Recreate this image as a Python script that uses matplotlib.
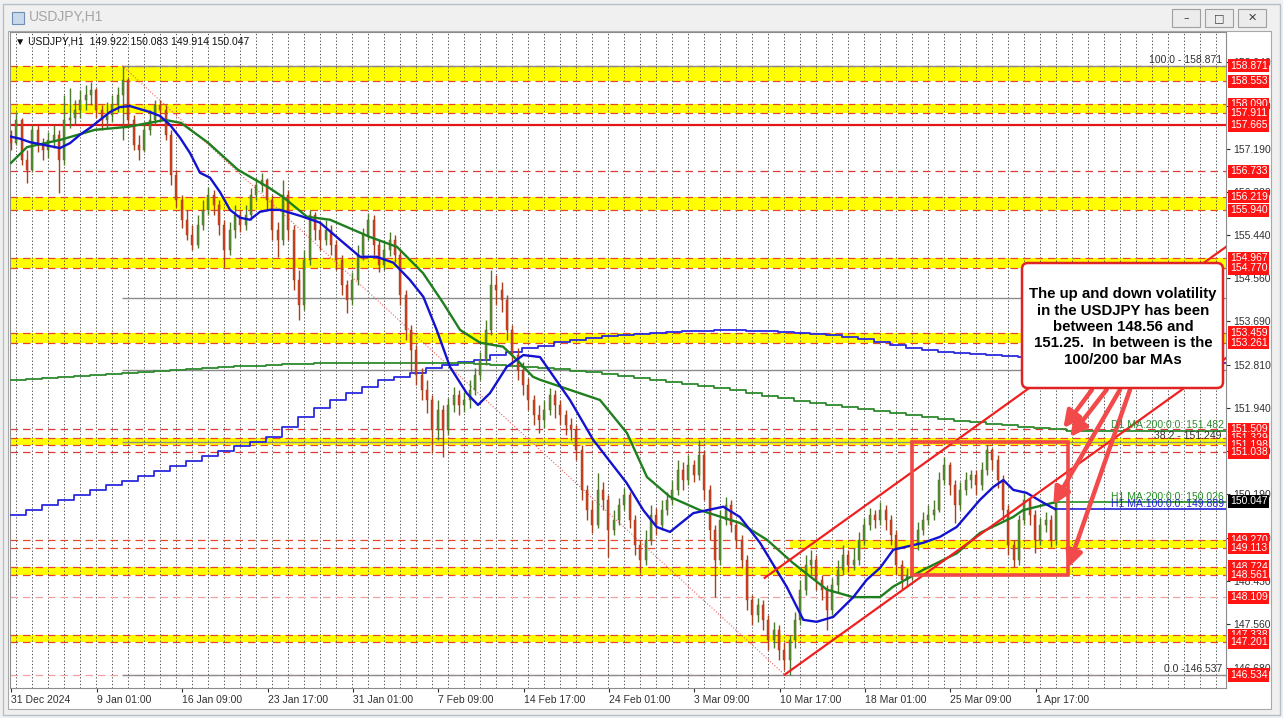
import matplotlib
matplotlib.use("Agg")
import matplotlib.pyplot as plt
import matplotlib.transforms as mtransforms
from matplotlib.patches import Rectangle, FancyBboxPatch
from matplotlib.ticker import MultipleLocator

plt.rcParams['font.family'] = ['Liberation Sans', 'DejaVu Sans']

# x axis counted in H1 bars, one candle below = 8 bars
candle_step = 8
first_open = 157.45
close = [157.30, 157.77, 156.96, 156.76, 157.57, 157.26, 157.16, 157.37, 157.47, 156.96,
         157.77, 157.81, 157.97, 158.18, 158.28, 158.38, 157.97, 157.77, 157.87, 158.07,
         158.28, 158.58, 157.77, 157.26, 157.16, 157.57, 157.77, 158.07, 157.97, 157.47,
         156.66, 156.15, 155.75, 155.44, 155.24, 155.64, 155.95, 156.25, 156.05, 155.64,
         155.14, 155.54, 155.85, 155.64, 155.85, 156.25, 156.45, 156.56, 156.15, 155.54,
         155.34, 156.25, 155.54, 154.53, 154.03, 154.94, 155.85, 155.54, 155.34, 155.54,
         155.24, 154.94, 154.43, 154.13, 154.53, 155.04, 155.44, 155.75, 155.24, 154.84,
         155.14, 155.34, 155.04, 154.23, 153.52, 153.11, 152.61, 152.30, 152.10, 151.49,
         151.90, 151.49, 152.00, 152.20, 152.00, 152.10, 152.30, 152.61, 152.91, 153.52,
         154.43, 154.33, 154.13, 153.52, 153.01, 152.71, 152.41, 152.10, 151.80, 151.70,
         151.90, 152.20, 152.00, 151.80, 151.60, 151.49, 151.09, 150.28, 149.88, 149.57,
         150.28, 150.08, 149.47, 149.67, 149.98, 150.18, 149.67, 149.17, 148.86, 149.27,
         149.77, 149.57, 149.88, 150.08, 150.28, 150.69, 150.48, 150.79, 150.58, 150.99,
         150.28, 149.47, 148.86, 149.67, 149.98, 149.57, 149.27, 148.86, 148.05, 147.75,
         147.95, 147.65, 147.24, 147.45, 147.04, 146.84, 147.24, 147.65, 148.26, 148.76,
         148.86, 148.46, 148.26, 147.85, 148.36, 148.66, 148.96, 148.76, 148.86, 149.27,
         149.57, 149.77, 149.67, 149.88, 149.67, 149.37, 148.76, 148.46, 148.56, 149.17,
         149.47, 149.67, 149.77, 149.88, 150.48, 150.79, 150.38, 149.98, 150.28, 150.48,
         150.58, 150.38, 150.69, 151.09, 150.89, 150.48, 149.88, 149.17, 148.86, 149.67,
         150.08, 149.77, 149.27, 149.57, 149.67, 149.27, 150.047]
high = [157.57, 157.93, 157.81, 157.16, 157.67, 157.67, 157.41, 157.53, 157.67, 157.57,
        158.28, 158.42, 158.18, 158.38, 158.48, 158.54, 158.42, 158.07, 158.13, 158.28,
        158.44, 158.871, 158.62, 157.87, 157.47, 157.73, 157.97, 158.18, 158.18, 158.07,
        157.57, 156.76, 156.25, 155.95, 155.64, 155.85, 156.15, 156.41, 156.35, 156.15,
        155.75, 155.71, 156.05, 155.95, 156.05, 156.39, 156.60, 156.70, 156.60, 156.25,
        155.71, 156.56, 156.35, 155.64, 154.73, 155.14, 155.95, 155.91, 155.71, 155.75,
        155.64, 155.34, 155.04, 154.53, 154.69, 155.24, 155.58, 155.89, 155.85, 155.34,
        155.34, 155.50, 155.44, 155.14, 154.33, 153.62, 153.22, 152.75, 152.51, 152.20,
        152.10, 152.00, 152.14, 152.37, 152.30, 152.26, 152.51, 152.75, 153.07, 153.72,
        154.73, 154.63, 154.49, 154.23, 153.62, 153.16, 152.87, 152.55, 152.20, 152.00,
        152.10, 152.35, 152.30, 152.10, 151.90, 151.74, 151.60, 151.19, 150.38, 150.08,
        150.63, 150.44, 150.18, 149.88, 150.12, 150.32, 150.24, 149.77, 149.27, 149.47,
        149.98, 149.91, 150.08, 150.24, 150.48, 150.89, 150.85, 150.99, 150.89, 151.29,
        151.09, 150.38, 149.57, 149.88, 150.14, 150.08, 149.67, 149.37, 148.96, 148.15,
        148.09, 148.05, 147.75, 147.61, 147.55, 147.20, 147.34, 147.81, 148.46, 148.96,
        149.07, 148.96, 148.56, 148.36, 148.50, 148.86, 149.17, 149.07, 149.11, 149.43,
        149.71, 149.91, 149.88, 150.04, 149.98, 149.77, 149.47, 148.86, 148.70, 149.31,
        149.63, 149.84, 149.98, 150.08, 150.64, 150.95, 150.85, 150.48, 150.44, 150.64,
        150.69, 150.69, 150.85, 151.198, 151.13, 150.99, 150.58, 149.98, 149.27, 149.77,
        150.22, 150.12, 149.88, 149.71, 149.84, 149.77, 150.22]
low = [157.16, 157.26, 156.86, 156.49, 156.72, 157.12, 156.96, 157.00, 157.20, 156.29,
       156.86, 157.61, 157.67, 157.81, 157.97, 158.07, 157.81, 157.57, 157.61, 157.73,
       157.93, 157.37, 157.61, 157.16, 156.96, 157.12, 157.47, 157.67, 157.73, 157.37,
       156.45, 156.01, 155.58, 155.34, 155.14, 155.18, 155.54, 155.85, 155.85, 155.44,
       154.80, 155.04, 155.38, 155.50, 155.54, 155.75, 156.15, 156.31, 155.95, 155.34,
       154.99, 155.24, 155.34, 154.33, 153.72, 153.92, 154.84, 155.34, 155.14, 155.24,
       155.04, 154.73, 154.23, 153.86, 154.03, 154.43, 154.94, 155.34, 155.04, 154.69,
       154.73, 155.02, 154.90, 154.03, 153.32, 152.65, 152.41, 152.10, 151.84, 151.03,
       151.29, 150.95, 151.39, 151.86, 151.80, 151.86, 151.94, 152.20, 152.51, 152.81,
       153.42, 154.03, 153.88, 153.32, 152.81, 152.51, 152.20, 151.90, 151.60, 151.43,
       151.54, 151.80, 151.74, 151.60, 151.39, 151.29, 150.89, 150.08, 149.67, 149.41,
       149.51, 149.88, 148.92, 149.37, 149.57, 149.88, 149.51, 148.96, 148.60, 148.76,
       149.17, 149.37, 149.47, 149.77, 149.98, 150.18, 150.28, 150.38, 150.44, 150.48,
       150.08, 149.27, 148.11, 148.76, 149.57, 149.43, 149.11, 148.70, 147.85, 147.55,
       147.61, 147.45, 147.04, 147.08, 146.84, 146.64, 146.534, 147.08, 147.55, 148.15,
       148.56, 148.26, 148.05, 147.45, 147.75, 148.22, 148.56, 148.62, 148.66, 148.76,
       149.17, 149.47, 149.51, 149.57, 149.47, 149.17, 148.56, 148.26, 148.32, 148.46,
       149.07, 149.37, 149.57, 149.67, 149.84, 150.38, 150.18, 149.61, 149.88, 150.18,
       150.32, 150.18, 150.28, 150.58, 150.69, 150.32, 149.67, 148.96, 148.72, 148.76,
       149.57, 149.57, 149.01, 149.17, 149.43, 149.13, 149.17]

# H1 moving averages (bar, price)
ma100_x = [1.5, 15, 30, 45, 60, 75, 90, 105, 120, 135, 150, 165, 180, 195, 210, 225, 240, 255,
           270, 285, 300, 315, 330, 345, 360, 375, 390, 405, 435, 465, 490, 525, 550, 575, 600,
           620, 640, 660, 685, 702, 720, 745, 770, 795, 840, 875, 925, 950, 970, 990, 1025,
           1070, 1095, 1125, 1165, 1190, 1210, 1235, 1265, 1285, 1305, 1325, 1370, 1395, 1420,
           1455, 1475, 1490, 1505, 1525, 1550, 1568]
ma100_y = [157.43, 157.39, 157.32, 157.28, 157.24, 157.20, 157.30, 157.47, 157.61, 157.77,
           157.93, 158.03, 158.05, 157.99, 157.93, 157.85, 157.67, 157.41, 157.10, 156.70,
           156.60, 156.31, 155.95, 155.79, 155.75, 155.91, 155.95, 155.95, 155.83, 155.69,
           155.40, 155.00, 155.00, 154.88, 154.53, 154.19, 153.52, 152.77, 152.24, 152.00,
           152.24, 152.77, 153.01, 152.97, 152.10, 151.29, 150.42, 149.87, 149.53, 149.43,
           149.81, 149.94, 149.73, 149.21, 148.32, 147.65, 147.61, 147.71, 148.11, 148.46,
           148.70, 149.07, 149.21, 149.33, 149.53, 150.08, 150.34, 150.48, 150.28, 150.22,
           150.02, 149.889]
ma200_x = [1.5, 25.5, 76.5, 127.5, 177, 232.5, 256.5, 297, 342, 387, 409.5, 445.5, 480, 540,
           580.5, 619.5, 649.5, 675, 705, 739.5, 760.5, 784.5, 795, 885, 925.5, 955.5, 990,
           1035, 1095, 1135.5, 1174.5, 1225.5, 1264.5, 1305, 1324.5, 1369.5, 1420.5, 1455,
           1504.5, 1519.5, 1564.5, 1568]
ma200_y = [156.90, 157.22, 157.37, 157.57, 157.63, 157.77, 157.71, 157.31, 156.76, 156.41,
           156.21, 155.81, 155.75, 155.40, 155.20, 154.67, 154.07, 153.52, 153.26, 153.18,
           152.91, 152.57, 152.51, 152.10, 151.43, 150.54, 150.14, 149.87, 149.61, 149.27,
           148.80, 148.26, 148.11, 148.11, 148.32, 148.66, 149.00, 149.41, 149.73, 149.87,
           150.02, 150.026]

# daily MAs drawn on the hourly chart, one value per day (24 bars)
d1_ma100 = [149.77, 149.87, 149.98, 150.08, 150.18, 150.28, 150.38, 150.46, 150.56, 150.66,
            150.77, 150.87, 150.97, 151.07, 151.17, 151.25, 151.35, 151.56, 151.76, 151.94,
            152.10, 152.24, 152.37, 152.51, 152.57, 152.65, 152.75, 152.81, 152.87, 152.91,
            153.01, 153.07, 153.15, 153.20, 153.28, 153.32, 153.36, 153.40, 153.42, 153.44,
            153.46, 153.48, 153.50, 153.50, 153.52, 153.52, 153.50, 153.50, 153.48, 153.46,
            153.44, 153.42, 153.38, 153.34, 153.28, 153.22, 153.15, 153.11, 153.07, 153.05,
            153.03, 153.01, 152.99, 152.97, 152.97, 152.95, 152.95, 152.93, 152.93, 152.91,
            152.91, 152.89, 152.89, 152.87, 152.87, 152.85, 152.85]
d1_ma200 = [152.51, 152.53, 152.55, 152.57, 152.59, 152.61, 152.63, 152.65, 152.67, 152.69,
            152.71, 152.73, 152.75, 152.77, 152.79, 152.79, 152.81, 152.83, 152.83, 152.85,
            152.85, 152.85, 152.85, 152.85, 152.85, 152.85, 152.85, 152.85, 152.85, 152.83,
            152.81, 152.79, 152.77, 152.75, 152.73, 152.69, 152.67, 152.63, 152.59, 152.55,
            152.51, 152.47, 152.43, 152.39, 152.35, 152.30, 152.24, 152.18, 152.14, 152.08,
            152.04, 152.00, 151.96, 151.92, 151.88, 151.84, 151.80, 151.76, 151.72, 151.68,
            151.66, 151.62, 151.60, 151.56, 151.54, 151.52, 151.49]
d1_ma200_last = 151.482

# horizontal levels
bands = [(158.871, 158.553), (158.090, 157.911), (156.219, 155.940), (154.967, 154.770),
         (153.459, 153.261), (151.329, 151.198), (148.724, 148.561), (147.338, 147.201)]
partial_band = (149.270, 149.113)
red_dashed = [156.733, 151.509, 151.038]
pink_dashed = [148.109, 146.534]
solid_red = 157.665
fib_prices = [158.871, 154.160, 152.704, 151.249, 146.537]
fib_start = 168
fib_trend_x = [168, 1162]
fib_trend_y = [158.871, 146.537]

channel_up_x, channel_up_y = [1132, 1824], [148.50, 155.20]
channel_lo_x, channel_lo_y = [1162, 1824], [146.54, 152.95]
range_x = [1353, 1587]
range_y = [148.56, 151.25]
arrow_from = [(1623, 152.31), (1645, 152.31), (1665, 152.31), (1680, 152.31)]
arrow_to = [(1580, 151.53), (1590, 151.35), (1565, 149.98), (1587, 148.70)]

price_labels = [158.871, 158.553, 158.090, 157.911, 157.665, 156.733, 156.219, 155.940,
                154.967, 154.770, 153.459, 153.261, 151.509, 151.329, 151.198, 151.038,
                149.270, 149.113, 148.724, 148.561, 148.109, 147.338, 147.201, 146.534]
last_price = 150.047
yticks = [158.940, 158.060, 157.190, 156.320, 155.440, 154.560, 153.690, 152.810,
          151.940, 151.070, 150.190, 149.310, 148.430, 147.560, 146.680]
xtick_pos = [1.5, 130.5, 258.5, 386.5, 514.5, 642.5, 770.5, 898.5, 1026.5, 1154.5,
             1282.5, 1410.5, 1538.5]
xtick_lab = ['31 Dec 2024', '9 Jan 01:00', '16 Jan 09:00', '23 Jan 17:00', '31 Jan 01:00',
             '7 Feb 09:00', '14 Feb 17:00', '24 Feb 01:00', '3 Mar 09:00', '10 Mar 17:00',
             '18 Mar 01:00', '25 Mar 09:00', '1 Apr 17:00']

note = ("The up and down volatility\nin the USDJPY has been\nbetween 148.56 and\n"
        "151.25.  In between is the\n100/200 bar MAs")

W, H = 1283, 718
def fx(px):
    return px / W
def fy(py):
    return 1 - py / H

fig = plt.figure(figsize=(12.83, 7.18), dpi=100, facecolor='#f0f0f0')
# window chrome (behind the axes)
fig.add_artist(Rectangle((fx(3), fy(715)), fx(1280) - fx(3), fy(4) - fy(715),
                         transform=fig.transFigure, fc='#f0f0f0', ec='#b4bfcc', lw=1, zorder=-3))
fig.add_artist(Rectangle((fx(8), fy(709)), fx(1271) - fx(8), fy(31) - fy(709),
                         transform=fig.transFigure, fc='white', ec='#a8a8a8', lw=0.8, zorder=-2))
fig.add_artist(Rectangle((fx(12), fy(24)), fx(12), fy(0) - fy(12),
                         transform=fig.transFigure, fc='#c9d9ec', ec='#6f8fb5', lw=0.8, zorder=-2))
fig.text(fx(29), fy(17), 'USDJPY,H1', fontsize=10, color='#a4a4a4', va='center')
for bx, sym in [(1172, '\u2013'), (1205, '\u25a1'), (1238, '\u2715')]:
    fig.add_artist(Rectangle((fx(bx), fy(27)), fx(28), fy(0) - fy(18),
                             transform=fig.transFigure, fc='#ececec', ec='#a0a0a0', lw=0.8,
                             zorder=-2))
    fig.text(fx(bx + 14), fy(18), sym, fontsize=8, ha='center', va='center',
             color='#404040', family=['DejaVu Sans'])

ax = fig.add_axes([fx(10), fy(688), fx(1226) - fx(10), fy(32) - fy(688)])
ax.set_xlim(0, 1824)
ax.set_ylim(146.27, 159.55)
ax.set_facecolor('white')

# yellow zones and their dashed edges
for hi, lo in bands:
    ax.axhspan(lo, hi, color='#ffff00', lw=0, zorder=0.2)
ax.fill_between([1170, 1824], partial_band[1], partial_band[0], color='#ffff00', lw=0, zorder=0.2)
for hi, lo in bands + [partial_band]:
    for p in (hi, lo):
        ax.axhline(p, color='#e8482a', ls=(0, (6, 4)), lw=0.9, zorder=1.5)
for p in red_dashed:
    ax.axhline(p, color='#e03838', ls=(0, (6, 4)), lw=0.9, zorder=1.5)
for p in pink_dashed:
    ax.axhline(p, color='#f2a0a0', ls=(0, (6, 4)), lw=0.9, zorder=1.5)
ax.axhline(solid_red, color='#e01818', lw=1.6, zorder=1.6)

ax.xaxis.set_minor_locator(MultipleLocator(24, offset=9.5))
ax.set_axisbelow(True)
ax.grid(which='minor', axis='x', color='#303030', ls=(0, (1.5, 2.5)), lw=0.6)

# fibonacci
ax.hlines(fib_prices, fib_start, 1824, color='#8c8c8c', lw=1, zorder=2)
ax.plot(fib_trend_x, fib_trend_y, color='#f06060', ls=':', lw=0.8, zorder=2)
tr = mtransforms.blended_transform_factory(ax.transAxes, ax.transData)
ax.text(0.9967, fib_prices[0] + 0.02, '100.0 - 158.871', transform=tr, ha='right', va='bottom',
        fontsize=7.5, color='#303030', zorder=9)
ax.text(0.9967, fib_prices[3] + 0.02, '38.2 - 151.249', transform=tr, ha='right', va='bottom',
        fontsize=7.5, color='#303030', zorder=9)
ax.text(0.9967, fib_prices[4] + 0.02, '0.0 -146.537', transform=tr, ha='right', va='bottom',
        fontsize=7.5, color='#303030', zorder=9)

# daily MAs
ax.step([24 * i for i in range(len(d1_ma100))], d1_ma100, where='post', color='#2a2ae0',
        lw=1.3, zorder=3)
ax.step([24 * i for i in range(len(d1_ma200))], d1_ma200, where='post', color='#2e8b2e',
        lw=1.3, zorder=3)
ax.hlines(d1_ma200_last, 24 * (len(d1_ma200) - 1), 1824, color='#2e8b2e', lw=1.3, zorder=3)
ax.text(0.9984, d1_ma200_last + 0.01, 'D1 MA:200:0:0: 151.482', transform=tr, ha='right',
        va='bottom', fontsize=7.5, color='#2e8b2e', zorder=9)

# candles
xs = [1.5 + candle_step * i for i in range(len(close))]
opens = [first_open] + close[:-1]
bottoms = [min(o, c) for o, c in zip(opens, close)]
heights = [max(abs(c - o), 0.015) for o, c in zip(opens, close)]
body_cols = ['#3a9a32' if c >= o else '#d63a22' for o, c in zip(opens, close)]
wick_cols = ['#4a7a2a' if c >= o else '#a8401e' for o, c in zip(opens, close)]
ax.vlines(xs, low, high, colors=wick_cols, lw=1.0, zorder=4)
ax.bar(xs, heights, bottom=bottoms, width=3.2, color=body_cols, edgecolor='#8a4a1c',
       lw=0.3, zorder=4.1)

# hourly MAs
ax.plot(ma200_x, ma200_y, color='#1f7f1f', lw=1.7, zorder=5)
ax.plot(ma100_x, ma100_y, color='#1212d0', lw=1.7, zorder=5.1)
ax.hlines(ma200_y[-1], ma200_x[-1], 1824, color='#1f8f1f', lw=1.2, zorder=5)
ax.hlines(ma100_y[-1], ma100_x[-1], 1824, color='#2020d8', lw=1.2, zorder=5)
ax.text(0.9984, ma200_y[-1] + 0.01, 'H1 MA:200:0:0: 150.026', transform=tr, ha='right',
        va='bottom', fontsize=7.5, color='#1f8f1f', zorder=9)
ax.text(0.9984, ma100_y[-1] + 0.01, 'H1 MA:100:0:0: 149.889', transform=tr, ha='right',
        va='bottom', fontsize=7.5, color='#2020d8', zorder=9)

# channel and range box
ax.plot(channel_up_x, channel_up_y, color='#f02020', lw=1.6, zorder=6)
ax.plot(channel_lo_x, channel_lo_y, color='#f02020', lw=1.6, zorder=6)
ax.add_patch(Rectangle((range_x[0], range_y[0]), range_x[1] - range_x[0],
                       range_y[1] - range_y[0], fill=False, ec='#f04848', lw=2.6, zorder=6))

for (sx, sy), (tx, ty) in zip(arrow_from, arrow_to):
    ax.annotate('', xy=(tx, ty), xytext=(sx, sy),
                arrowprops=dict(arrowstyle='-|>,head_length=1.0,head_width=0.5',
                                color='#f24a4a', lw=3.2, shrinkA=0, shrinkB=0), zorder=7)

# annotation box
ax.add_patch(FancyBboxPatch((fx(1022), fy(388)), fx(1223) - fx(1022), fy(263) - fy(388),
                            boxstyle='round,pad=0,rounding_size=%f' % fx(6),
                            mutation_aspect=W / H, transform=fig.transFigure,
                            fc='white', ec='#e02424', lw=1.8, zorder=8))
ax.text(fx(1123), fy(327), note, transform=fig.transFigure, ha='center', va='center',
        fontsize=10.8, fontweight='bold', linespacing=1.22, color='black', zorder=9)

# axes styling
for s in ax.spines.values():
    s.set_color('#8c8c8c')
    s.set_linewidth(0.8)
ax.yaxis.tick_right()
ax.set_yticks(yticks)
ax.set_yticklabels(['%.3f' % v for v in yticks])
ax.tick_params(axis='y', which='major', length=3, pad=2, labelsize=7.5, colors='#303030')
ax.set_xticks(xtick_pos)
ax.set_xticklabels(xtick_lab, ha='left')
ax.tick_params(axis='x', which='major', length=3, pad=2, labelsize=7.5, colors='#303030')
ax.tick_params(which='minor', length=0)

for p in price_labels:
    ax.text(1.0032, p, '%.3f' % p, transform=tr, ha='left', va='center', fontsize=7.5,
            color='white', clip_on=False, zorder=10,
            bbox=dict(boxstyle='square,pad=0.15', fc='#ff1414', ec='none'))
ax.text(1.0032, last_price, '%.3f' % last_price, transform=tr, ha='left', va='center',
        fontsize=7.5, color='white', clip_on=False, zorder=10,
        bbox=dict(boxstyle='square,pad=0.15', fc='black', ec='none'))

fig.text(fx(15), fy(41), '\u25bc USDJPY,H1  149.922 150.083 149.914 150.047', fontsize=7.5,
         va='center', color='#101010')

fig.savefig('out.png', dpi=100, facecolor=fig.get_facecolor())
